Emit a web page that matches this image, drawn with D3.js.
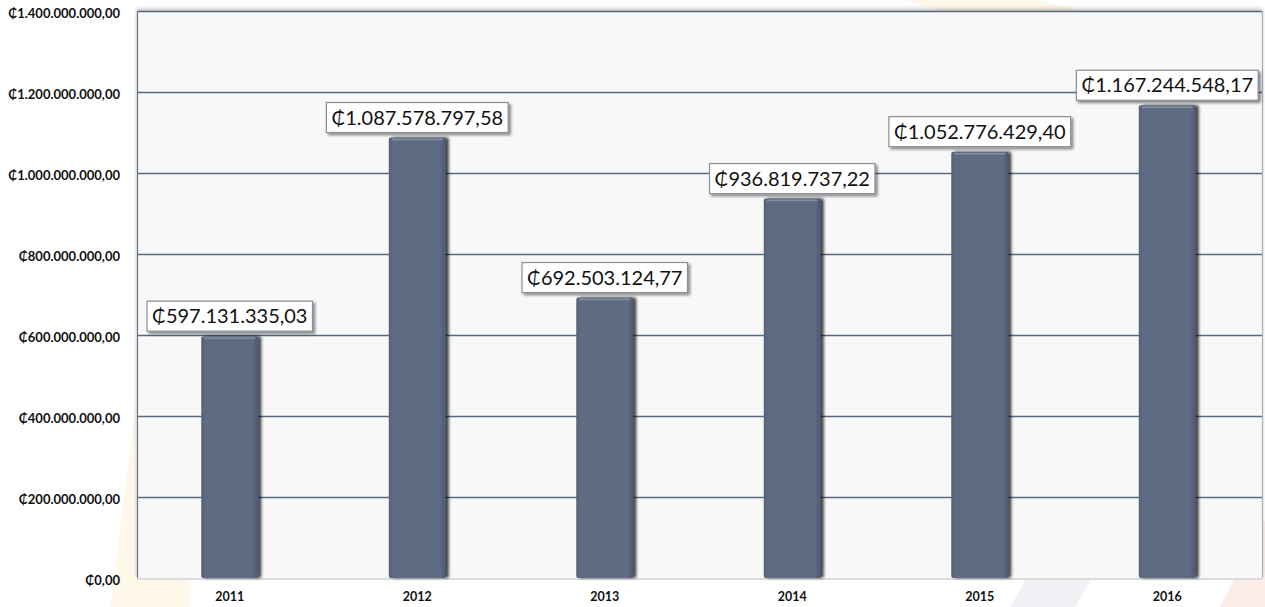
<!DOCTYPE html>
<html>
<head>
<meta charset="utf-8">
<script src="https://cdn.jsdelivr.net/npm/d3@7"></script>
<style>
  body { margin: 0; background: #fff; }
  svg { display: block; }
</style>
</head>
<body>
<svg width="1265" height="607"></svg>
<script>
var width = 1265;
var height = 607;
var margin = {left: 137, top: 11, right: 3, bottom: 29};

// data
var years  = ["2011", "2012", "2013", "2014", "2015", "2016"];
var values = [597131335.03, 1087578797.58, 692503124.77, 936819737.22, 1052776429.40, 1167244548.17];
var yTicks = [0, 200000000, 400000000, 600000000, 800000000, 1000000000, 1200000000, 1400000000];

var locale = d3.formatLocale({decimal: ",", thousands: ".", grouping: [3], currency: ["\u20B5", ""]});
var money = locale.format("$,.2f");

var svg = d3.select("svg");

// faint watermark shapes in the background
var marks = [
  {pts: [[110, 607], [145, 330], [180, 330], [190, 607]], fill: "#fff9ea"},
  {pts: [[1010, 607], [1060, 520], [1125, 520], [1075, 607]], fill: "#eff1f4"},
  {pts: [[1220, 607], [1265, 520], [1265, 607]], fill: "#fcece9"},
  {pts: [[905, 0], [1040, 0], [1080, 11], [940, 11]], fill: "#fff8e8"}
];
svg.selectAll("polygon.wm")
  .data(marks)
  .enter()
  .append("polygon")
  .attr("class", "wm")
  .attr("points", function (d) { return d.pts.map(function (p) { return p.join(","); }).join(" "); })
  .attr("fill", function (d) { return d.fill; });

var defs = svg.append("defs");

var shadow = defs.append("filter").attr("id", "barShadow")
  .attr("x", "-20%").attr("y", "-10%").attr("width", "150%").attr("height", "120%");
shadow.append("feGaussianBlur").attr("in", "SourceAlpha").attr("stdDeviation", 1.6);
shadow.append("feOffset").attr("dx", 3).attr("dy", 0).attr("result", "off");
shadow.append("feComponentTransfer").append("feFuncA").attr("type", "linear").attr("slope", 0.75);
var m1 = shadow.append("feMerge");
m1.append("feMergeNode");
m1.append("feMergeNode").attr("in", "SourceGraphic");

var boxShadow = defs.append("filter").attr("id", "boxShadow")
  .attr("x", "-10%").attr("y", "-20%").attr("width", "125%").attr("height", "160%");
boxShadow.append("feGaussianBlur").attr("in", "SourceAlpha").attr("stdDeviation", 1.5);
boxShadow.append("feOffset").attr("dx", 2).attr("dy", 2).attr("result", "off");
boxShadow.append("feComponentTransfer").append("feFuncA").attr("type", "linear").attr("slope", 0.5);
var m2 = boxShadow.append("feMerge");
m2.append("feMergeNode");
m2.append("feMergeNode").attr("in", "SourceGraphic");

var plotShadow = defs.append("filter").attr("id", "plotShadow")
  .attr("x", "-2%").attr("y", "-5%").attr("width", "104%").attr("height", "110%");
plotShadow.append("feGaussianBlur").attr("in", "SourceAlpha").attr("stdDeviation", 2);
plotShadow.append("feOffset").attr("dx", 0).attr("dy", -2).attr("result", "off");
plotShadow.append("feComponentTransfer").append("feFuncA").attr("type", "linear").attr("slope", 0.25);
var m3 = plotShadow.append("feMerge");
m3.append("feMergeNode");
m3.append("feMergeNode").attr("in", "SourceGraphic");

var barGrad = defs.append("linearGradient").attr("id", "barGrad")
  .attr("x1", "0").attr("x2", "1").attr("y1", "0").attr("y2", "0");
barGrad.append("stop").attr("offset", "0").attr("stop-color", "#55627a");
barGrad.append("stop").attr("offset", "0.08").attr("stop-color", "#5e6b83");
barGrad.append("stop").attr("offset", "0.9").attr("stop-color", "#5e6b83");
barGrad.append("stop").attr("offset", "1").attr("stop-color", "#4c586e");

// scales
var x = d3.scaleBand().domain(years).range([margin.left, width - margin.right]).paddingInner(0).paddingOuter(0);
var y = d3.scaleLinear().domain([0, 1400000000]).range([height - margin.bottom, margin.top]);

// plot area
svg.append("rect")
  .attr("x", margin.left)
  .attr("y", margin.top)
  .attr("width", width - margin.left - margin.right)
  .attr("height", height - margin.top - margin.bottom)
  .attr("fill", "#f8f8f8")
  .attr("filter", "url(#plotShadow)");

// gridlines
svg.append("g")
  .selectAll("line")
  .data(yTicks.slice(1))
  .enter()
  .append("line")
  .attr("x1", margin.left)
  .attr("x2", width - margin.right)
  .attr("y1", function (d) { return Math.round(y(d)) + 0.5; })
  .attr("y2", function (d) { return Math.round(y(d)) + 0.5; })
  .attr("stroke", "#5a6883")
  .attr("stroke-width", 1.3);

// frame
svg.append("line")
  .attr("x1", margin.left + 0.5).attr("x2", margin.left + 0.5)
  .attr("y1", margin.top).attr("y2", height - margin.bottom)
  .attr("stroke", "#6b7890").attr("stroke-width", 1.2);
svg.append("line")
  .attr("x1", width - margin.right + 0.5).attr("x2", width - margin.right + 0.5)
  .attr("y1", margin.top).attr("y2", height - margin.bottom)
  .attr("stroke", "#a8b0bd").attr("stroke-width", 1.2);
svg.append("line")
  .attr("x1", margin.left).attr("x2", width - margin.right)
  .attr("y1", height - margin.bottom + 1).attr("y2", height - margin.bottom + 1)
  .attr("stroke", "#dcdcdc").attr("stroke-width", 2);

// bars
var barW = 57;
svg.append("g")
  .selectAll("rect")
  .data(values)
  .enter()
  .append("rect")
  .attr("x", function (d, i) { return x(years[i]) + x.bandwidth() / 2 - barW / 2 - 1; })
  .attr("y", function (d) { return y(d); })
  .attr("width", barW)
  .attr("height", function (d) { return y(0) - y(d); })
  .attr("rx", 2)
  .attr("fill", "url(#barGrad)")
  .attr("filter", "url(#barShadow)");

// bar top highlight
svg.append("g")
  .selectAll("line")
  .data(values)
  .enter()
  .append("line")
  .attr("x1", function (d, i) { return x(years[i]) + x.bandwidth() / 2 - barW / 2 + 2; })
  .attr("x2", function (d, i) { return x(years[i]) + x.bandwidth() / 2 + barW / 2 - 4; })
  .attr("y1", function (d) { return y(d) + 2; })
  .attr("y2", function (d) { return y(d) + 2; })
  .attr("stroke", "#8390a6")
  .attr("stroke-width", 1.5);

// y axis labels
var axisLeft = d3.axisLeft(y).tickValues(yTicks).tickFormat(money).tickSize(0).tickPadding(0);
var gy = svg.append("g")
  .attr("transform", "translate(" + (margin.left - 17) + ",2)")
  .call(axisLeft);
gy.select(".domain").remove();
gy.selectAll("text")
  .style("font-family", "Lato, 'Open Sans', sans-serif")
  .style("font-weight", "bold")
  .style("font-size", "13px")
  .attr("fill", "#111");

// x axis labels
var axisBottom = d3.axisBottom(x).tickSize(0).tickPadding(0);
var gx = svg.append("g")
  .attr("transform", "translate(-1," + (height - margin.bottom + 14) + ")")
  .call(axisBottom);
gx.select(".domain").remove();
gx.selectAll("text")
  .style("font-family", "Lato, 'Open Sans', sans-serif")
  .style("font-weight", "bold")
  .style("font-size", "12.5px")
  .attr("fill", "#111");

// value labels in boxes
var lab = svg.append("g")
  .selectAll("g")
  .data(values)
  .enter()
  .append("g")
  .attr("transform", function (d, i) {
    return "translate(" + (x(years[i]) + x.bandwidth() / 2 - 1) + "," + (y(d) - 20) + ")";
  });

lab.append("rect").attr("class", "box");
lab.append("text")
  .attr("text-anchor", "middle")
  .attr("dy", "0.36em")
  .style("font-family", "Lato, 'Open Sans', sans-serif")
  .style("font-size", "20px")
  .attr("fill", "#111")
  .text(function (d) { return money(d); });

lab.each(function () {
  var g = d3.select(this);
  var bb = g.select("text").node().getBBox();
  g.select("rect")
    .attr("x", bb.x - 5)
    .attr("y", -15)
    .attr("width", bb.width + 10)
    .attr("height", 30)
    .attr("fill", "#ffffff")
    .attr("stroke", "#8a8f98")
    .attr("stroke-width", 1.2)
    .attr("filter", "url(#boxShadow)");
});
</script>
</body>
</html>
